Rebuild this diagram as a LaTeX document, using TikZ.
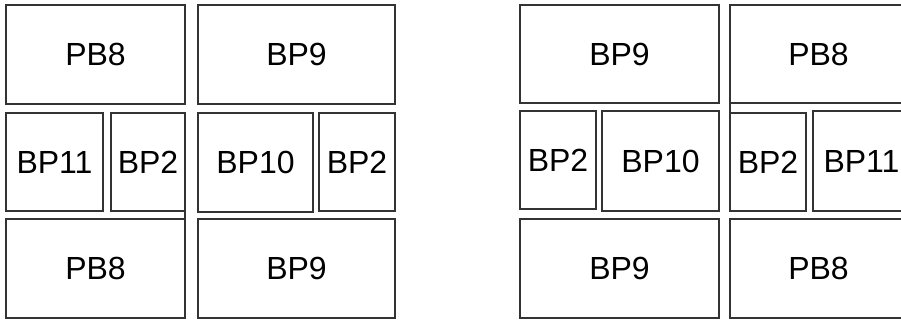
\documentclass[tikz,border=0pt]{standalone}
\usepackage{fontspec}
\setmainfont{Liberation Sans}
\begin{document}
\begin{tikzpicture}[x=1pt,y=1pt,
  box/.style={draw=black!80, line width=1.3pt, rectangle, anchor=north west,
    inner sep=0pt, outer sep=0pt, font=\fontsize{32}{38}\selectfont, text=black},
  edge/.style={draw=black!80, line width=1.3pt}]
\useasboundingbox (0,0) rectangle (901,-320);
\fill[white] (0,0) rectangle (901,-320);
\clip (0,0) rectangle (901,-320);
% left group
\node[box, minimum width=179, minimum height=99] (lpb8t) at (6,-5) {PB8};
\node[box, minimum width=197, minimum height=99] (lbp9t) at (198,-5) {BP9};
\node[box, minimum width=97, minimum height=98] (lbp11) at (6,-113) {BP11};
\node[box, minimum width=74, minimum height=98] (lbp2) at (111,-113) {BP2};
\node[box, minimum width=115, minimum height=99] (lbp10) at (198,-113) {BP10};
\node[box, minimum width=76, minimum height=98] (lbp2b) at (319,-113) {BP2};
\node[box, minimum width=179, minimum height=99] (lpb8b) at (6,-219) {PB8};
\node[box, minimum width=197, minimum height=99] (lbp9b) at (198,-219) {BP9};
\draw[edge] (lbp2.south east) -- (lpb8b.north east);
% right group
\node[box, minimum width=199, minimum height=98] (rbp9t) at (520,-5) {BP9};
\node[box, minimum width=177, minimum height=98] (rpb8t) at (730,-5) {PB8};
\node[box, minimum width=76, minimum height=98] (rbp2) at (520,-111) {BP2};
\node[box, minimum width=117, minimum height=100] (rbp10) at (602,-111) {BP10};
\node[box, minimum width=76, minimum height=98] (rbp2b) at (730,-113) {BP2};
\node[box, minimum width=97, minimum height=100] (rbp11) at (813,-111) {BP11};
\node[box, minimum width=199, minimum height=99] (rbp9b) at (520,-219) {BP9};
\node[box, minimum width=177, minimum height=99] (rpb8b) at (730,-219) {PB8};
\draw[edge] (rpb8t.south west) -- (rbp2b.north west);
\end{tikzpicture}
\end{document}
